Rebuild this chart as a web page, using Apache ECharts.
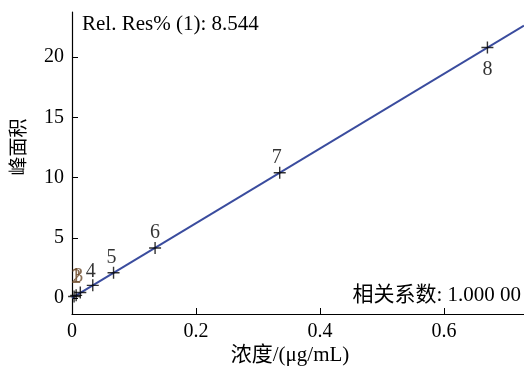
<!DOCTYPE html>
<html>
<head>
<meta charset="utf-8">
<script src="https://cdn.jsdelivr.net/npm/echarts@6/dist/echarts.min.js"></script>
<style>html,body{margin:0;padding:0;background:#fff}#c{width:524px;height:370px}</style>
</head>
<body>
<div id="c"></div>
<script>
var pointLabels = ['1','2','3','4','5','6','7','8'];
var concentrations = [0.00335, 0.0067, 0.0134, 0.0335, 0.067, 0.134, 0.335, 0.67];
var peakAreas = [0.12, 0.22, 0.45, 1.05, 2.1, 4.15, 10.4, 20.8];
var yTicks = [0, 5, 10, 15, 20];
var xTicks = [0, 0.2, 0.4, 0.6];
var relResText = 'Rel. Res% (1): 8.544';
var corrText = '相关系数: 1.000 00';
var xName = '浓度/(μg/mL)';
var yName = '峰面积';

var XMIN = 0, XMAX = 0.729, YMIN = -1.33, YMAX = 23.75;

// least squares regression from the data
var n = concentrations.length, sx = 0, sy = 0, sxx = 0, sxy = 0;
for (var i = 0; i < n; i++) { sx += concentrations[i]; sy += peakAreas[i]; sxx += concentrations[i]*concentrations[i]; sxy += concentrations[i]*peakAreas[i]; }
var slope = (n*sxy - sx*sy) / (n*sxx - sx*sx);
var intercept = (sy - slope*sx) / n;
var fit = [[XMIN, intercept + slope*XMIN], [XMAX, intercept + slope*XMAX]];

var serif = "'Liberation Serif', 'Noto Sans CJK SC', serif";
var pts = concentrations.map(function (x, i) {
  var pos = 'top', dist = 2, color = '#000', off = [0, 3];
  if (i === 7) { pos = 'bottom'; dist = 6; off = [0, 0]; }
  if (i < 3) { color = '#6b4a2a'; off = [2 - 2 * i, -2 + 2 * i]; }
  if (i === 3) { off = [-2, 4]; }
  if (i === 4) { off = [-2, 3]; }
  if (i === 6) { off = [-3, 3]; }
  return { value: [x, peakAreas[i]], label: { position: pos, distance: dist, color: color, offset: off, formatter: pointLabels[i] } };
});

var chart = echarts.init(document.getElementById('c'), null, { renderer: 'canvas' });
chart.setOption({
  animation: false,
  backgroundColor: '#fff',
  grid: { left: 72, right: 0, top: 12, bottom: 56, containLabel: false },
  xAxis: {
    type: 'value', min: XMIN, max: XMAX,
    axisLine: { onZero: false, lineStyle: { color: '#000', width: 1.2 } },
    axisTick: { inside: true, length: 6, lineStyle: { color: '#000' }, customValues: xTicks },
    axisLabel: { color: '#000', fontFamily: serif, fontSize: 20, margin: 8, customValues: xTicks },
    splitLine: { show: false }
  },
  yAxis: {
    type: 'value', min: YMIN, max: YMAX,
    axisLine: { show: true, onZero: false, lineStyle: { color: '#000', width: 1.2 } },
    axisTick: { show: true, inside: true, length: 6, lineStyle: { color: '#000' }, customValues: yTicks },
    axisLabel: { color: '#000', fontFamily: serif, fontSize: 20, margin: 8, customValues: yTicks },
    splitLine: { show: false }
  },
  graphic: [
    { type: 'text', left: 82, top: 14, style: { text: relResText, fontFamily: serif, fontSize: 21, fill: '#000' } },
    { type: 'text', right: 3, top: 285, style: { text: corrText, fontFamily: serif, fontSize: 21, fill: '#000' } },
    { type: 'text', x: 290, y: 355, style: { text: xName, fontFamily: serif, fontSize: 21, fill: '#000', align: 'center', verticalAlign: 'middle' } },
    { type: 'text', x: 20, y: 147, rotation: Math.PI / 2, style: { text: yName, fontFamily: serif, fontSize: 19, fill: '#000', align: 'center', verticalAlign: 'middle' } }
  ],
  series: [
    { type: 'line', data: fit, symbol: 'none', lineStyle: { color: '#3a4c9e', width: 2 }, z: 2, silent: true },
    { type: 'scatter', data: pts, symbol: 'path://M0,5.3h12v1.4h-12zM5.3,0h1.4v12h-1.4z', symbolSize: 12,
      itemStyle: { color: '#000' }, z: 3,
      label: { show: true, fontFamily: serif, fontSize: 20 } }
  ]
});
</script>
</body>
</html>
